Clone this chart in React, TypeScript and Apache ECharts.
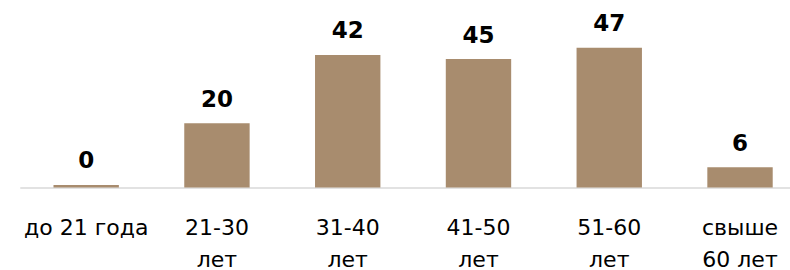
import React, { useEffect, useRef } from "react";
import * as echarts from "echarts";

const categories = ["до 21 года", "21-30\nлет", "31-40\nлет", "41-50\nлет", "51-60\nлет", "свыше\n60 лет"];
const barHeights = [0.8, 20, 41.3, 40.0, 43.5, 6.3];
const valueLabels = ["0", "20", "42", "45", "47", "6"];

export default function App() {
  const ref = useRef<HTMLDivElement>(null);
  useEffect(() => {
    document.body.style.margin = "0";
    const chart = echarts.init(ref.current!, null, { renderer: "svg" });
    chart.setOption({
      animation: false,
      grid: {
        left: 20.8,
        right: -15.4,
        top: 27,
        bottom: 82.5,
        containLabel: false,
        outerBoundsMode: "none",
      },
      xAxis: {
        type: "category",
        data: categories,
        axisLine: { show: true, lineStyle: { color: "#D9D9D9", width: 1.5 } },
        axisTick: { show: false },
        axisLabel: {
          interval: 0,
          margin: 24,
          color: "#000000",
          fontFamily: "DejaVu Sans",
          fontSize: 22,
          lineHeight: 32,
        },
      },
      yAxis: {
        type: "value",
        min: 0,
        max: 50,
        show: false,
        splitLine: { show: false },
      },
      series: [
        {
          type: "bar",
          data: barHeights,
          barWidth: "50%",
          itemStyle: { color: "#A88C6E" },
          label: {
            show: true,
            position: "top",
            distance: 13,
            color: "#000000",
            fontFamily: "DejaVu Sans",
            fontWeight: "bold",
            fontSize: 23,
            formatter: (p: any) => valueLabels[p.dataIndex],
          },
        },
      ],
    });
    return () => chart.dispose();
  }, []);
  return <div ref={ref} style={{ width: 790, height: 270, position: "absolute", left: 0, top: 0 }} />;
}
